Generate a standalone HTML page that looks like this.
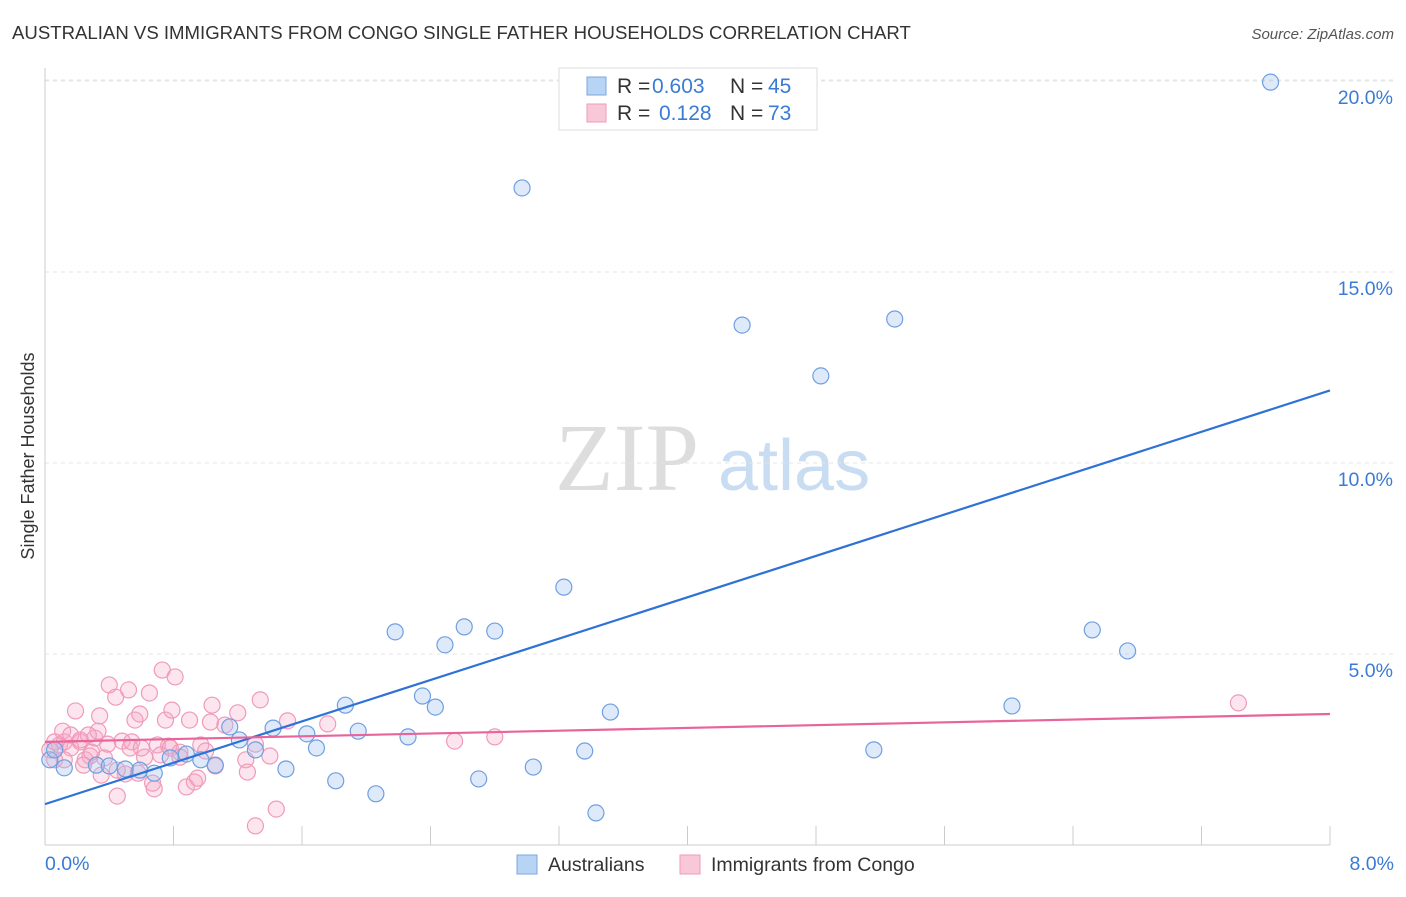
<!DOCTYPE html>
<html><head><meta charset="utf-8"><style>
body{margin:0;background:#fff;font-family:"Liberation Sans",sans-serif}
svg text{font-family:"Liberation Sans",sans-serif}
</style></head><body>
<svg id="chart" width="1406" height="892" xmlns="http://www.w3.org/2000/svg">
<text x="12" y="39" font-size="18.6" fill="#333">AUSTRALIAN VS IMMIGRANTS FROM CONGO SINGLE FATHER HOUSEHOLDS CORRELATION CHART</text>
<text x="1394" y="39" font-size="15" fill="#555" text-anchor="end" font-style="italic">Source: ZipAtlas.com</text>
<text x="555" y="490" font-size="96" fill="#ddd" style="font-family:'Liberation Serif',serif">ZIP</text>
<text x="718" y="490" font-size="72" fill="#c8dcf2">atlas</text>
<text transform="translate(34,456) rotate(-90)" font-size="18" fill="#333" text-anchor="middle">Single Father Households</text>
<g id="grid"></g><g id="pts"></g><g id="lines"></g>
<g>
<rect x="559" y="68" width="258" height="62" fill="#fff" stroke="#ddd"/>
<rect x="587" y="77" width="19" height="18" fill="#b8d4f5" stroke="#7aa7e0"/>
<text x="617" y="93" font-size="21" fill="#333">R =</text>
<text x="652" y="93" font-size="21" fill="#3a7bd5">0.603</text>
<text x="730" y="93" font-size="21" fill="#333">N =</text>
<text x="768" y="93" font-size="21" fill="#3a7bd5">45</text>
<rect x="587" y="104" width="19" height="18" fill="#f9c8d8" stroke="#f09ab8"/>
<text x="617" y="120" font-size="21" fill="#333">R =</text>
<text x="659" y="120" font-size="21" fill="#3a7bd5">0.128</text>
<text x="730" y="120" font-size="21" fill="#333">N =</text>
<text x="768" y="120" font-size="21" fill="#3a7bd5">73</text>
</g>
<g>
<rect x="517" y="855" width="20" height="19" fill="#b8d4f5" stroke="#7aa7e0"/>
<text x="548" y="871" font-size="19.5" fill="#333">Australians</text>
<rect x="680" y="855" width="20" height="19" fill="#f9c8d8" stroke="#f09ab8"/>
<text x="711" y="871" font-size="19.5" fill="#333">Immigrants from Congo</text>
</g>
</svg>
<script>
const yTicks=[5,10,15,20];
const yTickLabels=["5.0%","10.0%","15.0%","20.0%"];
const xTickLabels=["0.0%","8.0%"];
const blueX=[7.63,2.97,4.34,4.83,5.29,3.23,2.18,2.61,2.80,2.49,6.52,6.74,6.02,1.87,2.35,2.43,3.52,1.15,1.42,1.63,1.95,2.26,1.21,1.31,1.69,3.36,5.16,0.88,0.97,1.06,1.50,3.04,1.81,2.06,2.70,3.43,0.03,0.06,0.12,0.32,0.40,0.50,0.59,0.68,0.78];
const blueY=[19.97,17.2,13.61,12.28,13.77,6.75,5.58,5.71,5.60,5.24,5.63,5.08,3.64,3.66,3.90,3.61,3.48,3.09,3.06,2.91,2.98,2.83,2.75,2.49,2.54,2.46,2.49,2.38,2.23,2.09,1.99,2.04,1.68,1.34,1.73,0.84,2.23,2.49,2.02,2.09,2.07,1.99,1.96,1.88,2.28];
const pinkX=[0.03,0.06,0.09,0.12,0.16,0.11,0.19,0.22,0.25,0.28,0.31,0.33,0.34,0.37,0.39,0.40,0.44,0.45,0.48,0.52,0.53,0.56,0.58,0.59,0.62,0.65,0.67,0.68,0.70,0.73,0.75,0.77,0.79,0.81,0.84,0.88,0.90,0.93,0.97,1.00,1.03,1.04,1.06,1.20,1.25,1.26,1.31,1.31,1.34,1.40,1.44,1.51,1.76,2.55,2.80,7.43,0.12,0.16,0.22,0.27,0.29,0.35,0.50,0.54,0.60,0.78,0.95,1.12,0.84,0.72,0.45,0.24,0.06];
const pinkY=[2.49,2.23,2.62,2.70,2.54,2.98,3.51,2.70,2.23,2.33,2.80,2.98,3.38,2.28,2.64,4.19,3.87,1.28,2.72,4.06,2.54,3.27,1.88,3.43,2.30,3.98,1.62,1.47,2.62,4.58,3.27,2.59,3.53,4.40,2.43,1.52,3.27,1.65,2.62,2.46,3.22,3.66,2.07,3.46,2.23,1.91,2.64,0.50,3.80,2.33,0.94,3.25,3.17,2.72,2.83,3.72,2.23,2.88,2.75,2.88,2.43,1.83,1.86,2.70,2.54,2.54,1.75,3.14,2.30,2.36,1.96,2.09,2.70];
const blueLine=[1.07,11.9];
const pinkLine=[2.7,3.43];
const X=v=>45+v/8*1285, Y=v=>845-v*38.2;
const NS="http://www.w3.org/2000/svg";
function mk(t,a,p){const e=document.createElementNS(NS,t);for(const k in a)e.setAttribute(k,a[k]);p.appendChild(e);return e;}
const g=document.getElementById('grid');
yTicks.forEach((v,i)=>{
 const l=mk('line',{x1:45,x2:1394,y1:Y(v),y2:Y(v),stroke:'#e4e4e4','stroke-dasharray':'4 4'},g);
 
 
 const t=mk('text',{x:1393,y:Y(v)+23,'font-size':19.5,fill:'#3a7bd5','text-anchor':'end'},g);
 t.textContent=yTickLabels[i];
 
 
});
const topGrid=mk('line',{x1:45,x2:1394,y1:80,y2:80,stroke:'#e4e4e4','stroke-dasharray':'4 4'},g);


const ya=mk('line',{x1:45,x2:45,y1:68,y2:845,stroke:'#ccc'},g);


const xa=mk('line',{x1:45,x2:1330,y1:845,y2:845,stroke:'#ccc'},g);


for(let i=0;i<=10;i++){const tk=mk('line',{x1:X(i*0.8),x2:X(i*0.8),y1:826,y2:845,stroke:'#ccc'},g);
 
 }
[[0,'start',45],[8,'end',1394]].forEach((d,i)=>{const t=mk('text',{x:d[2],y:870,'font-size':19.5,fill:'#3a7bd5','text-anchor':d[1]},g);t.textContent=xTickLabels[i];
 
 });
const p=document.getElementById('pts');
pinkX.forEach((x,i)=>{const c=mk('circle',{cx:X(x),cy:Y(pinkY[i]),r:8,fill:'rgba(245,170,200,0.3)',stroke:'#f09ab8','stroke-width':1.2},p);
 
 });
blueX.forEach((x,i)=>{const c=mk('circle',{cx:X(x),cy:Y(blueY[i]),r:8,fill:'rgba(160,195,240,0.35)',stroke:'#6f9fe0','stroke-width':1.2},p);
 
 });
const L=document.getElementById('lines');
const bl=mk('line',{x1:X(0),x2:X(8),y1:Y(blueLine[0]),y2:Y(blueLine[1]),stroke:'#2f72d6','stroke-width':2.2},L);


const pl=mk('line',{x1:X(0),x2:X(8),y1:Y(pinkLine[0]),y2:Y(pinkLine[1]),stroke:'#e8649a','stroke-width':2.2},L);


</script>
</body></html>
